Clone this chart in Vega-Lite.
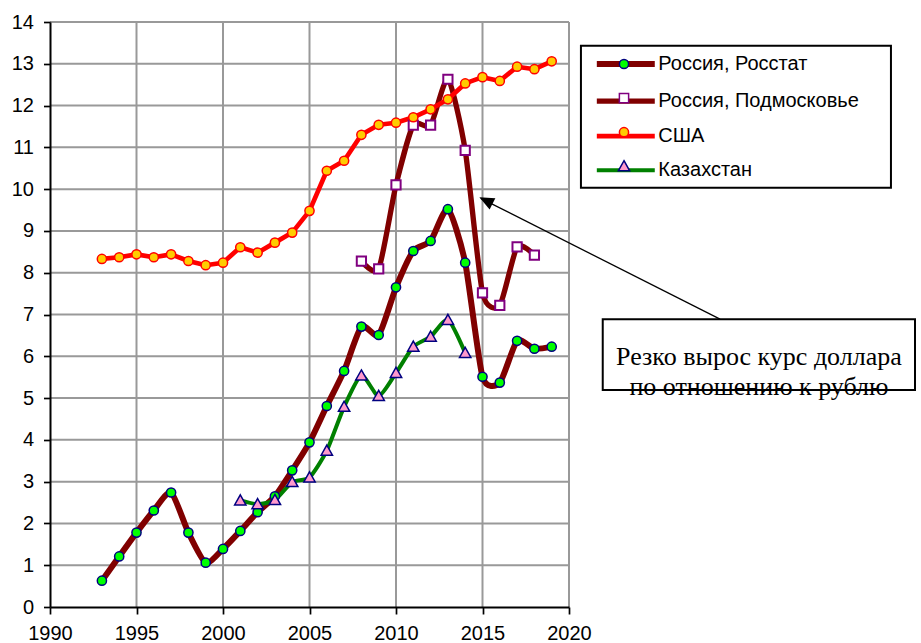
{
  "$schema": "https://vega.github.io/schema/vega-lite/v6.json",
  "width": 519,
  "height": 585,
  "autosize": {"type": "none"},
  "padding": {"left": 50, "top": 22, "right": 352, "bottom": 36},
  "background": "white",
  "config": {"view": {"stroke": null}, "font": "Liberation Sans"},
  "datasets": {
    "d": [
      {"series": "Россия, Росстат", "year": 1993, "value": 0.63},
      {"series": "Россия, Росстат", "year": 1994, "value": 1.21},
      {"series": "Россия, Росстат", "year": 1995, "value": 1.78},
      {"series": "Россия, Росстат", "year": 1996, "value": 2.31},
      {"series": "Россия, Росстат", "year": 1997, "value": 2.74},
      {"series": "Россия, Росстат", "year": 1998, "value": 1.78},
      {"series": "Россия, Росстат", "year": 1999, "value": 1.06},
      {"series": "Россия, Росстат", "year": 2000, "value": 1.39},
      {"series": "Россия, Росстат", "year": 2001, "value": 1.82},
      {"series": "Россия, Росстат", "year": 2002, "value": 2.27},
      {"series": "Россия, Росстат", "year": 2003, "value": 2.65},
      {"series": "Россия, Росстат", "year": 2004, "value": 3.27},
      {"series": "Россия, Росстат", "year": 2005, "value": 3.94},
      {"series": "Россия, Росстат", "year": 2006, "value": 4.81},
      {"series": "Россия, Росстат", "year": 2007, "value": 5.65},
      {"series": "Россия, Росстат", "year": 2008, "value": 6.71},
      {"series": "Россия, Росстат", "year": 2009, "value": 6.51},
      {"series": "Россия, Росстат", "year": 2010, "value": 7.65},
      {"series": "Россия, Росстат", "year": 2011, "value": 8.52},
      {"series": "Россия, Росстат", "year": 2012, "value": 8.76},
      {"series": "Россия, Росстат", "year": 2013, "value": 9.52},
      {"series": "Россия, Росстат", "year": 2014, "value": 8.24},
      {"series": "Россия, Росстат", "year": 2015, "value": 5.51},
      {"series": "Россия, Росстат", "year": 2016, "value": 5.37},
      {"series": "Россия, Росстат", "year": 2017, "value": 6.37},
      {"series": "Россия, Росстат", "year": 2018, "value": 6.18},
      {"series": "Россия, Росстат", "year": 2019, "value": 6.23},
      {"series": "Россия, Подмосковье", "year": 2008, "value": 8.28},
      {"series": "Россия, Подмосковье", "year": 2009, "value": 8.09},
      {"series": "Россия, Подмосковье", "year": 2010, "value": 10.1},
      {"series": "Россия, Подмосковье", "year": 2011, "value": 11.53},
      {"series": "Россия, Подмосковье", "year": 2012, "value": 11.53},
      {"series": "Россия, Подмосковье", "year": 2013, "value": 12.63},
      {"series": "Россия, Подмосковье", "year": 2014, "value": 10.93},
      {"series": "Россия, Подмосковье", "year": 2015, "value": 7.52},
      {"series": "Россия, Подмосковье", "year": 2016, "value": 7.22},
      {"series": "Россия, Подмосковье", "year": 2017, "value": 8.62},
      {"series": "Россия, Подмосковье", "year": 2018, "value": 8.42},
      {"series": "США", "year": 1993, "value": 8.33},
      {"series": "США", "year": 1994, "value": 8.37},
      {"series": "США", "year": 1995, "value": 8.44},
      {"series": "США", "year": 1996, "value": 8.37},
      {"series": "США", "year": 1997, "value": 8.44},
      {"series": "США", "year": 1998, "value": 8.28},
      {"series": "США", "year": 1999, "value": 8.18},
      {"series": "США", "year": 2000, "value": 8.24},
      {"series": "США", "year": 2001, "value": 8.61},
      {"series": "США", "year": 2002, "value": 8.48},
      {"series": "США", "year": 2003, "value": 8.72},
      {"series": "США", "year": 2004, "value": 8.96},
      {"series": "США", "year": 2005, "value": 9.48},
      {"series": "США", "year": 2006, "value": 10.44},
      {"series": "США", "year": 2007, "value": 10.68},
      {"series": "США", "year": 2008, "value": 11.3},
      {"series": "США", "year": 2009, "value": 11.54},
      {"series": "США", "year": 2010, "value": 11.59},
      {"series": "США", "year": 2011, "value": 11.72},
      {"series": "США", "year": 2012, "value": 11.91},
      {"series": "США", "year": 2013, "value": 12.15},
      {"series": "США", "year": 2014, "value": 12.53},
      {"series": "США", "year": 2015, "value": 12.68},
      {"series": "США", "year": 2016, "value": 12.59},
      {"series": "США", "year": 2017, "value": 12.93},
      {"series": "США", "year": 2018, "value": 12.87},
      {"series": "США", "year": 2019, "value": 13.06},
      {"series": "Казахстан", "year": 2001, "value": 2.55},
      {"series": "Казахстан", "year": 2002, "value": 2.46},
      {"series": "Казахстан", "year": 2003, "value": 2.56},
      {"series": "Казахстан", "year": 2004, "value": 2.99},
      {"series": "Казахстан", "year": 2005, "value": 3.1},
      {"series": "Казахстан", "year": 2006, "value": 3.74},
      {"series": "Казахстан", "year": 2007, "value": 4.79},
      {"series": "Казахстан", "year": 2008, "value": 5.54},
      {"series": "Казахстан", "year": 2009, "value": 5.05},
      {"series": "Казахстан", "year": 2010, "value": 5.6},
      {"series": "Казахстан", "year": 2011, "value": 6.23},
      {"series": "Казахстан", "year": 2012, "value": 6.47},
      {"series": "Казахстан", "year": 2013, "value": 6.87},
      {"series": "Казахстан", "year": 2014, "value": 6.08}
    ]
  },
  "data": {"name": "d"},
  "layer": [
    {
      "data": {"values": [{"kind": "legend box"}]},
      "mark": {"type": "rect", "fill": "white", "stroke": "black", "strokeWidth": 2},
      "encoding": {
        "x": {
          "datum": 2020.69, "type": "quantitative",
          "scale": {"domain": [1990, 2020], "nice": false, "zero": false},
          "axis": {
            "title": null, "values": [1990, 1995, 2000, 2005, 2010, 2015, 2020], "format": "d",
            "labelFontSize": 20, "labelColor": "black", "labelFont": "Liberation Sans",
            "labelPadding": 9, "labelFlush": false, "labelOverlap": false,
            "tickSize": 7, "tickWidth": 1.7, "tickColor": "black",
            "domainColor": "black", "domainWidth": 2, "grid": false, "zindex": 1
          }
        },
        "x2": {"datum": 2038.61},
        "y": {
          "datum": 13.433, "type": "quantitative",
          "scale": {"domain": [0, 14], "nice": false, "zero": false},
          "axis": {
            "title": null,
            "values": [0, 0.5, 1, 1.5, 2, 2.5, 3, 3.5, 4, 4.5, 5, 5.5, 6, 6.5, 7, 7.5, 8, 8.5, 9, 9.5, 10, 10.5, 11, 11.5, 12, 12.5, 13, 13.5, 14],
            "labelExpr": "datum.value % 1 === 0 ? datum.label : ''",
            "labelFontSize": 20, "labelColor": "black", "labelFont": "Liberation Sans",
            "labelPadding": 10, "labelOverlap": false, "labelFlush": false,
            "tickSize": 6.5,
            "tickDash": {"condition": {"test": "datum.value % 1 !== 0", "value": [4.7, 20]}, "value": [20, 0]},
            "tickWidth": 1.7, "tickColor": "black",
            "domainColor": "black", "domainWidth": 2, "grid": false, "zindex": 1
          }
        },
        "y2": {"datum": 10.035}
      }
    },
    {
      "data": {"values": [{"gx": 1995}, {"gx": 2000}, {"gx": 2005}, {"gx": 2010}, {"gx": 2015}, {"gx": 2020}]},
      "mark": {"type": "rule", "stroke": "#999999", "strokeWidth": 2, "opacity": 1, "strokeOpacity": 1},
      "encoding": {
        "x": {"field": "gx", "type": "quantitative"},
        "y": {"datum": 0, "type": "quantitative"},
        "y2": {"datum": 14}
      }
    },
    {
      "data": {"values": [{"gy": 1}, {"gy": 2}, {"gy": 3}, {"gy": 4}, {"gy": 5}, {"gy": 6}, {"gy": 7}, {"gy": 8}, {"gy": 9}, {"gy": 10}, {"gy": 11}, {"gy": 12}, {"gy": 13}, {"gy": 14}]},
      "mark": {"type": "rule", "stroke": "#999999", "strokeWidth": 2, "opacity": 1, "strokeOpacity": 1},
      "encoding": {
        "y": {"field": "gy", "type": "quantitative"},
        "x": {"datum": 1990, "type": "quantitative"},
        "x2": {"datum": 2020}
      }
    },
    {
      "transform": [{"filter": "datum.series !== 'США'"}],
      "mark": {"type": "line", "interpolate": "cardinal", "tension": 0.35, "strokeJoin": "round", "strokeCap": "round"},
      "encoding": {
        "x": {"field": "year", "type": "quantitative"},
        "y": {"field": "value", "type": "quantitative"},
        "stroke": {
          "field": "series", "type": "nominal",
          "scale": {"domain": ["Россия, Росстат", "Россия, Подмосковье", "США", "Казахстан"], "range": ["#800000", "#800000", "#FF0000", "#008000"]},
          "legend": {
            "title": null, "orient": "none", "direction": "vertical", "legendX": 531, "legendY": 24,
            "symbolType": "M-4.14,0L4.14,0", "symbolSize": 196, "symbolOffset": 26.8,
            "labelFontSize": 20, "labelFont": "Liberation Sans", "labelColor": "black", "labelLimit": 400, "labelOffset": 22.5,
            "rowPadding": 14.1, "padding": 8, "zindex": 1
          }
        },
        "strokeWidth": {
          "field": "series", "type": "nominal",
          "scale": {"domain": ["Россия, Росстат", "Россия, Подмосковье", "США", "Казахстан"], "range": [6, 4, 2, 3.5]},
          "legend": {
            "title": null, "orient": "none", "direction": "vertical", "legendX": 531, "legendY": 24,
            "symbolType": "M-4.14,0L4.14,0", "symbolSize": 196, "symbolOffset": 26.8,
            "labelFontSize": 20, "labelFont": "Liberation Sans", "labelColor": "black", "labelLimit": 400, "labelOffset": 22.5,
            "rowPadding": 14.1, "padding": 8, "zindex": 1
          }
        }
      }
    },
    {
      "transform": [{"filter": "datum.series === 'США'"}],
      "mark": {"type": "line", "interpolate": "linear", "strokeJoin": "round"},
      "encoding": {
        "x": {"field": "year", "type": "quantitative"},
        "y": {"field": "value", "type": "quantitative"},
        "stroke": {"field": "series", "type": "nominal"},
        "strokeWidth": {"field": "series", "type": "nominal"}
      }
    },
    {
      "data": {"values": [{"kind": "arrow"}]},
      "mark": {"type": "rule", "color": "black", "strokeWidth": 1.3},
      "encoding": {
        "x": {"datum": 2028.73, "type": "quantitative"},
        "y": {"datum": 6.89, "type": "quantitative"},
        "x2": {"datum": 2014.9},
        "y2": {"datum": 9.78}
      }
    },
    {
      "data": {"values": [{"kind": "arrowhead"}]},
      "mark": {"type": "point", "shape": "M0,0L-0.9,2.1L0.9,2.1Z", "size": 196, "angle": 297, "filled": true, "color": "black", "opacity": 1, "strokeWidth": 0},
      "encoding": {
        "x": {"datum": 2014.82, "type": "quantitative"},
        "y": {"datum": 9.805, "type": "quantitative"}
      }
    },
    {
      "transform": [{"calculate": "indexof(['Россия, Росстат', 'Россия, Подмосковье', 'США', 'Казахстан'], datum.series)", "as": "k"}],
      "mark": {"type": "point", "filled": false, "opacity": 1, "size": 196},
      "encoding": {
        "x": {"field": "year", "type": "quantitative"},
        "y": {"field": "value", "type": "quantitative"},
        "shape": {
          "field": "k", "type": "nominal",
          "scale": {"range": [
            "M-0.657,0A0.657,0.657,0,1,1,0.657,0A0.657,0.657,0,1,1,-0.657,0Z",
            "M-0.66,-0.66H0.66V0.66H-0.66Z",
            "M-0.657,0A0.657,0.657,0,1,1,0.657,0A0.657,0.657,0,1,1,-0.657,0Z",
            "M0,-0.8L0.81,0.64L-0.81,0.64Z"
          ]},
          "legend": {
            "title": null, "orient": "none", "direction": "vertical", "legendX": 531, "legendY": 24,
            "symbolSize": 196, "symbolOffset": 25, "symbolStrokeWidth": 1.5,
            "labelFontSize": 20, "labelFont": "Liberation Sans", "labelLimit": 400, "labelOffset": 22.5, "labelOpacity": 0,
            "rowPadding": 14.1, "padding": 8, "zindex": 2
          }
        },
        "fill": {
          "field": "k", "type": "nominal",
          "scale": {"range": ["#00FF00", "#FFFFFF", "#FFCC00", "#FF99CC"]},
          "legend": {
            "title": null, "orient": "none", "direction": "vertical", "legendX": 531, "legendY": 24,
            "symbolSize": 196, "symbolOffset": 25, "symbolStrokeWidth": 1.5,
            "labelFontSize": 20, "labelFont": "Liberation Sans", "labelLimit": 400, "labelOffset": 22.5, "labelOpacity": 0,
            "rowPadding": 14.1, "padding": 8, "zindex": 2
          }
        },
        "color": {
          "field": "k", "type": "nominal",
          "scale": {"range": ["#000080", "#800080", "#FF0000", "#000080"]},
          "legend": {
            "title": null, "orient": "none", "direction": "vertical", "legendX": 531, "legendY": 24,
            "symbolSize": 196, "symbolOffset": 25, "symbolStrokeWidth": 1.5,
            "labelFontSize": 20, "labelFont": "Liberation Sans", "labelLimit": 400, "labelOffset": 22.5, "labelOpacity": 0,
            "rowPadding": 14.1, "padding": 8, "zindex": 2
          }
        },
        "strokeWidth": {
          "condition": {"test": "datum.series === 'Россия, Подмосковье'", "value": 2},
          "value": 1.5
        }
      }
    },
    {
      "data": {"values": [{"kind": "box"}]},
      "mark": {"type": "rect", "fill": "white", "stroke": "black", "strokeWidth": 2},
      "encoding": {
        "x": {"datum": 2021.95, "type": "quantitative"},
        "x2": {"datum": 2040.0},
        "y": {"datum": 6.885, "type": "quantitative"},
        "y2": {"datum": 5.193}
      }
    },
    {
      "data": {"values": [{"note": "Резко вырос курс доллара\nпо отношению к рублю"}]},
      "mark": {"type": "text", "font": "Liberation Serif", "fontSize": 26, "lineBreak": "\n", "lineHeight": 30, "align": "center", "baseline": "middle", "color": "black"},
      "encoding": {
        "x": {"datum": 2030.98, "type": "quantitative"},
        "y": {"datum": 5.99, "type": "quantitative"},
        "text": {"field": "note", "type": "nominal"}
      }
    }
  ]
}
